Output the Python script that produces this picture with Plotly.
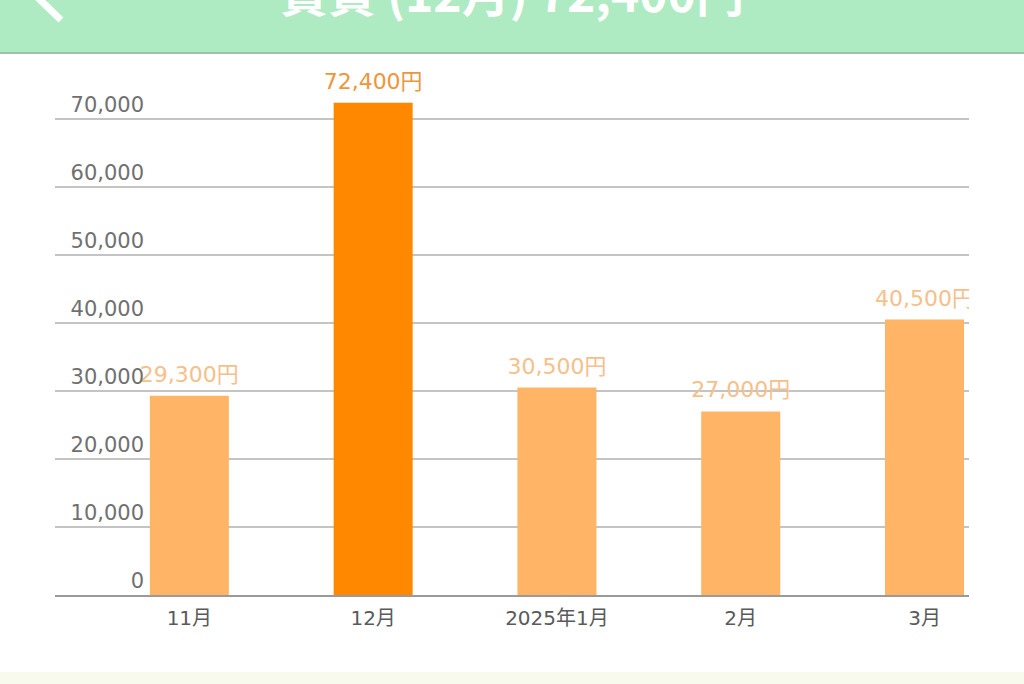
import plotly.graph_objs as go

months = ['11月', '12月', '2025年1月', '2月', '3月']
rent = [29300, 72400, 30500, 27000, 40500]
selected_month = '12月'
title_text = '賃貸 (12月) 72,400円'
y_ticks = [0, 10000, 20000, 30000, 40000, 50000, 60000, 70000]
y_tick_labels = ['0', '10,000', '20,000', '30,000', '40,000', '50,000', '60,000', '70,000']

W = 1024
H = 684
left = 55
right = 969
top = 58
bottom = 595

num_font = 'DejaVu Sans, Noto Sans CJK JP, sans-serif'


def px_x(px):
    return (px - left) / float(right - left)


def px_y(py):
    return (bottom - py) / float(bottom - top)


bar_colors = ['#FF8800' if m == selected_month else '#FFB466' for m in months]
label_colors = ['#F0953A' if m == selected_month else '#F6C08A' for m in months]
labels = ['{:,}円'.format(v) for v in rent]

trace_bars = go.Bar(
    x=months,
    y=rent,
    width=0.43,
    marker=dict(color=bar_colors, line=dict(width=0)),
    hoverinfo='none'
)

trace_labels = go.Scatter(
    x=months,
    y=rent,
    mode='markers+text',
    text=labels,
    textposition='top center',
    textfont=dict(family=num_font, size=22, color=label_colors),
    marker=dict(size=12, opacity=0),
    cliponaxis=True,
    hoverinfo='none'
)

fig = go.Figure(data=[trace_bars, trace_labels])

fig['layout'].update(
    width=W,
    height=H,
    margin=dict(l=left, r=W - right, t=top, b=H - bottom, pad=0),
    paper_bgcolor='white',
    plot_bgcolor='white',
    showlegend=False,
    font=dict(family=num_font),
)

fig['layout']['xaxis'].update(
    type='category',
    range=[-0.731, 4.242],
    showgrid=False,
    showline=True,
    linecolor='#9A9A9A',
    linewidth=2,
    ticks='',
    ticklabelstandoff=4,
    tickfont=dict(size=20, color='#5A5A5A'),
    fixedrange=True
)

fig['layout']['yaxis'].update(
    range=[0, (bottom - top) / 0.0068],
    tickvals=y_ticks,
    ticktext=y_tick_labels,
    showgrid=True,
    gridcolor='#C4C4C4',
    gridwidth=2,
    zeroline=False,
    showline=False,
    ticks='',
    ticklabelposition='outside top',
    ticklabelstandoff=-90,
    tickfont=dict(size=21, color='#707070'),
    fixedrange=True
)

# header bar, back arrow and footer strip
fig['layout']['shapes'] = [
    dict(type='rect', xref='paper', yref='paper', layer='above',
         x0=px_x(-5), x1=px_x(W + 5), y0=px_y(53), y1=px_y(-5),
         fillcolor='#AEEBC2', line=dict(width=0)),
    dict(type='line', xref='paper', yref='paper', layer='above',
         x0=px_x(-5), x1=px_x(W + 5), y0=px_y(53), y1=px_y(53),
         line=dict(color='#9CC2A8', width=2)),
    dict(type='line', xref='paper', yref='paper', layer='above',
         x0=px_x(34), x1=px_x(61), y0=px_y(-6), y1=px_y(20),
         line=dict(color='white', width=7)),
    dict(type='rect', xref='paper', yref='paper', layer='below',
         x0=px_x(-5), x1=px_x(W + 5), y0=px_y(H + 5), y1=px_y(672),
         fillcolor='#F8FAEE', line=dict(width=0)),
]

fig['layout']['annotations'] = [
    dict(text='<b>' + title_text + '</b>', xref='paper', yref='paper',
         x=0.5, y=px_y(28), xanchor='center', yanchor='bottom',
         showarrow=False,
         font=dict(family='Noto Sans CJK JP', size=48, color='white'))
]

fig.write_html('out.html', config=dict(displayModeBar=False),
               post_script="document.body.style.margin='0';")
